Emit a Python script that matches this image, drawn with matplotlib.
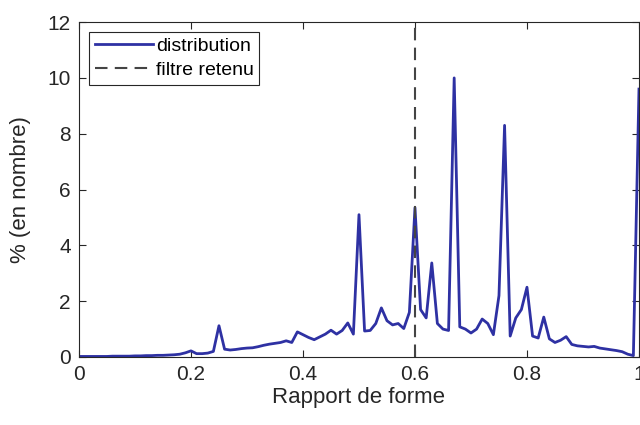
import numpy as np
import matplotlib.pyplot as plt

# rapport de forme (pas de 0.01)
rapport = np.round(np.arange(0, 1.001, 0.01), 2)

# % en nombre
distribution = [
    0.02, 0.02, 0.02, 0.02, 0.02, 0.02, 0.03, 0.03, 0.03, 0.03,
    0.04, 0.04, 0.05, 0.05, 0.06, 0.06, 0.07, 0.08, 0.10, 0.15,
    0.22, 0.12, 0.12, 0.14, 0.20, 1.12, 0.28, 0.25, 0.27, 0.30,
    0.32, 0.33, 0.37, 0.42, 0.46, 0.49, 0.52, 0.58, 0.52, 0.90,
    0.80, 0.70, 0.62, 0.72, 0.82, 0.96, 0.82, 0.95, 1.22, 0.82,
    5.10, 0.93, 0.95, 1.20, 1.76, 1.30, 1.15, 1.20, 1.02, 1.60,
    5.35, 1.70, 1.40, 3.37, 1.20, 1.00, 0.95, 10.0, 1.08, 1.00,
    0.86, 1.00, 1.36, 1.20, 0.80, 2.20, 8.30, 0.75, 1.40, 1.70,
    2.50, 0.75, 0.68, 1.43, 0.65, 0.52, 0.60, 0.73, 0.45, 0.40,
    0.38, 0.36, 0.38, 0.32, 0.29, 0.26, 0.23, 0.19, 0.10, 0.05,
    9.60,
]

filtre = 0.6

xticks = [0, 0.2, 0.4, 0.6, 0.8, 1]
yticks = [0, 2, 4, 6, 8, 10, 12]

plt.rcParams['font.family'] = ['Liberation Sans', 'DejaVu Sans']

fig = plt.figure(figsize=(6.4, 4.25), dpi=100)
ax = fig.add_axes([0.1234, 0.16, 0.875, 0.788])

ax.plot(rapport, distribution, color='#2E31A3', lw=2, label='distribution')
ax.axvline(filtre, color='#444444', ls='--', lw=1.5, dashes=(6, 3.5), label='filtre retenu')

ax.set_xlim(0, 1)
ax.set_ylim(0, 12)
ax.set_xticks(xticks)
ax.set_xticklabels(['0', '0.2', '0.4', '0.6', '0.8', '1'])
ax.set_yticks(yticks)
ax.tick_params(direction='in', top=True, right=True, labelsize=15,
               colors='#262626', length=5, width=0.8, pad=6)
for s in ax.spines.values():
    s.set_color('#262626')
    s.set_linewidth(0.8)

ax.set_xlabel('Rapport de forme', fontsize=16, color='#262626', labelpad=2)
ax.set_ylabel('% (en nombre)', fontsize=16, color='#262626', labelpad=12)

leg = ax.legend(loc='upper left', fontsize=14, fancybox=False, framealpha=1,
                edgecolor='#262626', borderpad=0.3, labelspacing=0.3,
                handlelength=3.0, handletextpad=0.15,
                bbox_to_anchor=(0.0, 1.0))
leg.get_frame().set_linewidth(0.8)

fig.savefig('out.png', dpi=100)
